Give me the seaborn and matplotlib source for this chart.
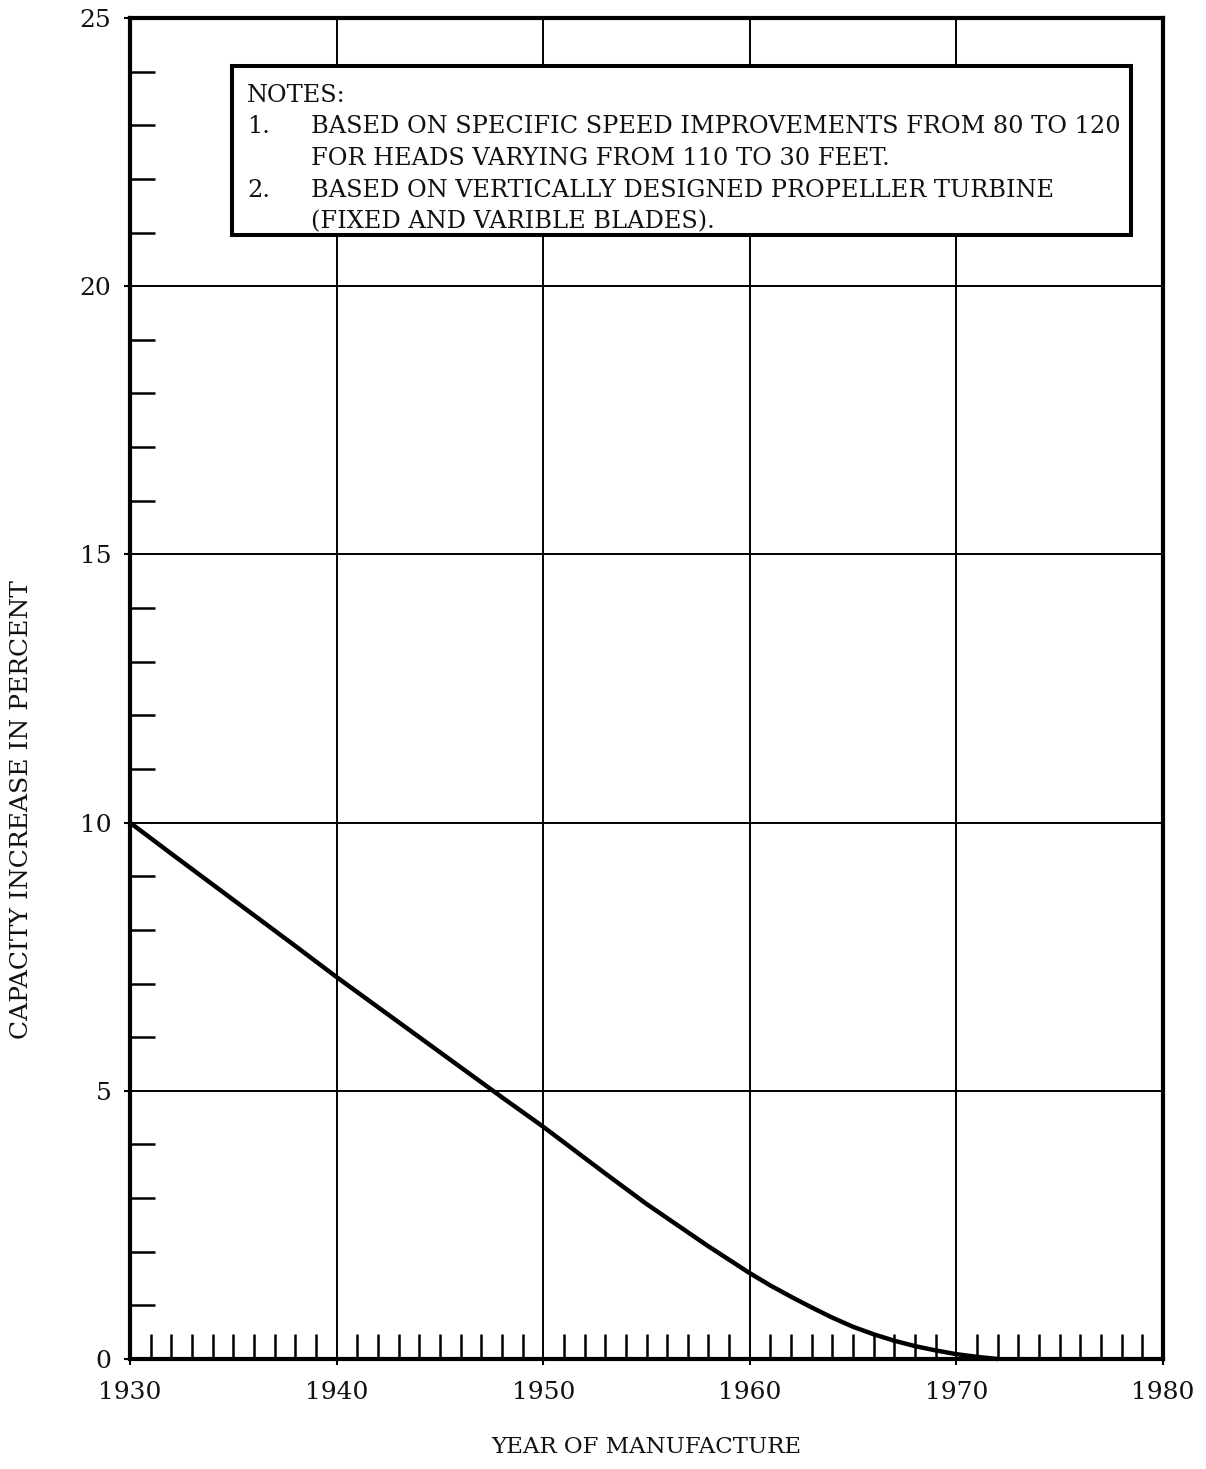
import matplotlib
matplotlib.use("Agg")
import matplotlib.pyplot as plt
import seaborn as sns
import pandas as pd
from matplotlib.patches import Rectangle
from matplotlib.ticker import MultipleLocator, FixedLocator

# ---- data ----
years = [1930, 1932, 1935, 1938, 1940, 1943, 1945, 1948, 1950, 1953, 1955,
         1958, 1960, 1961, 1962, 1963, 1964, 1965, 1966, 1967, 1968, 1969,
         1970, 1971, 1972]
capacity = [10.0, 9.42, 8.56, 7.70, 7.12, 6.28, 5.72, 4.88, 4.33, 3.46, 2.89,
            2.10, 1.60, 1.37, 1.16, 0.96, 0.77, 0.60, 0.46, 0.34, 0.24, 0.16,
            0.09, 0.04, 0.0]
x_major = [1930, 1940, 1950, 1960, 1970, 1980]
y_major = [0, 5, 10, 15, 20, 25]
x_label = "YEAR OF MANUFACTURE"
y_label = "CAPACITY INCREASE IN PERCENT"
notes_title = "NOTES:"
note_numbers = ["1.", "", "2.", ""]
note_lines = [
    "BASED ON SPECIFIC SPEED IMPROVEMENTS FROM 80 TO 120",
    "FOR HEADS VARYING FROM 110 TO 30 FEET.",
    "BASED ON VERTICALLY DESIGNED PROPELLER TURBINE",
    "(FIXED AND VARIBLE BLADES).",
]

sns.set_theme(style="white")
plt.rcParams['font.family'] = ['DejaVu Serif']

W, H = 1206, 1469
fig = plt.figure(figsize=(W / 100, H / 100), dpi=100)
L, R, T, B = 130, 1163, 18, 1359
ax = fig.add_axes([L / W, 1 - B / H, (R - L) / W, (B - T) / H])

df = pd.DataFrame({"year": years, "capacity": capacity})
sns.lineplot(data=df, x="year", y="capacity", ax=ax, color="black",
             linewidth=3.2, zorder=5, clip_on=False)

ax.set_xlim(1930, 1980)
ax.set_ylim(0, 25)
ax.xaxis.set_major_locator(FixedLocator(x_major))
ax.yaxis.set_major_locator(FixedLocator(y_major))
ax.xaxis.set_minor_locator(MultipleLocator(1))
ax.yaxis.set_minor_locator(MultipleLocator(1))
ax.grid(True, which="major", color="black", linewidth=1.4)
ax.set_axisbelow(True)

ax.tick_params(axis="both", which="major", direction="out", length=4.5,
               width=1.5, color="black", labelsize=18, labelcolor="#111111")
ax.tick_params(axis="x", which="major", pad=11)
ax.tick_params(axis="y", which="major", pad=9)
ax.tick_params(axis="both", which="minor", direction="in", length=18,
               width=1.8, color="black")
ax.tick_params(bottom=True, left=True, top=False, right=False)
ax.tick_params(which="minor", bottom=True, left=True, top=False, right=False)

for s in ax.spines.values():
    s.set_color("black")
    s.set_linewidth(3.0)
    s.set_zorder(6)

ax.set_xlabel(x_label, fontsize=16.5, color="#111111")
ax.set_ylabel(y_label, fontsize=18, color="#111111")
ax.xaxis.set_label_coords(0.5, (B - 1447) / (B - T))
ax.yaxis.set_label_coords((22 - L) / (R - L), (B - 810) / (B - T))
ax.xaxis.label.set_va("center")
ax.yaxis.label.set_va("center")


def fx(px):
    return (px - L) / (R - L)


def fy(py):
    return (B - py) / (B - T)


box = Rectangle((fx(232), fy(235)), fx(1131) - fx(232), fy(66) - fy(235),
                transform=ax.transAxes, facecolor="white", edgecolor="black",
                linewidth=2.9, zorder=4)
ax.add_patch(box)

fs_note = 17.3
ax.text(fx(247), fy(102), notes_title, transform=ax.transAxes, fontsize=fs_note,
        va="baseline", ha="left", color="#111111", zorder=7)
baselines = [133, 165, 197, 228]
for num, line, by in zip(note_numbers, note_lines, baselines):
    if num:
        ax.text(fx(247), fy(by), num, transform=ax.transAxes, fontsize=fs_note,
                va="baseline", ha="left", color="#111111", zorder=7)
    ax.text(fx(311), fy(by), line, transform=ax.transAxes, fontsize=fs_note,
            va="baseline", ha="left", color="#111111", zorder=7)

fig.savefig("out.png", dpi=100, facecolor="white")
